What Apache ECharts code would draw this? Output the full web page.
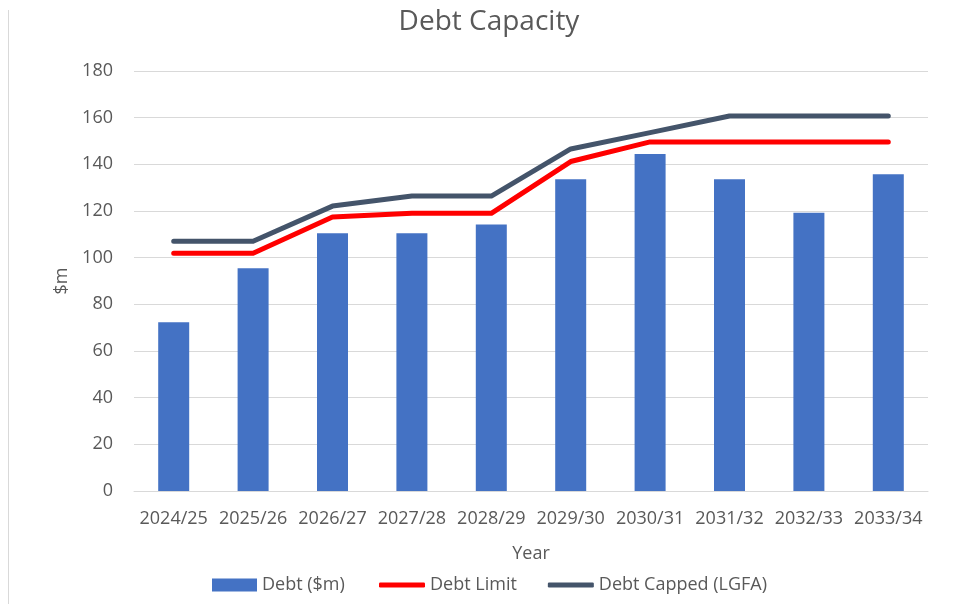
<!DOCTYPE html>
<html>
<head>
<meta charset="utf-8">
<script src="https://cdn.jsdelivr.net/npm/echarts@6/dist/echarts.min.js"></script>
<style>
html,body{margin:0;padding:0;background:#fff;}
#c{width:953px;height:604px;}
</style>
</head>
<body>
<div id="c"></div>
<script>
const categories = ['2024/25','2025/26','2026/27','2027/28','2028/29','2029/30','2030/31','2031/32','2032/33','2033/34'];
const debt = [72.3, 95.5, 110.5, 110.5, 114.2, 133.6, 144.4, 133.6, 119.3, 135.7];
const debtLimit = [101.9, 101.9, 117.4, 119.0, 119.0, 141.2, 149.6, 149.6, 149.6, 149.6];
const debtCapped = [107.0, 107.0, 122.1, 126.4, 126.4, 146.6, 153.6, 160.7, 160.7, 160.7];
const yTicks = [0, 20, 40, 60, 80, 100, 120, 140, 160, 180];

const FONT = '"Open Sans", sans-serif';
const TXT = '#595959';
const chart = echarts.init(document.getElementById('c'), null, {renderer:'canvas'});
const legendText = {fontFamily: FONT, fontSize: 18, color: TXT};
chart.setOption({
  animation: false,
  backgroundColor: '#ffffff',
  title: {
    text: 'Debt Capacity',
    left: 484, top: 3, textAlign: 'center',
    textStyle: {fontFamily: FONT, fontSize: 28, fontWeight: 'normal', color: TXT}
  },
  grid: {left: 134, right: 25, top: 71, bottom: 113, containLabel: false},
  legend: [
    {
      left: 207, top: 571,
      itemWidth: 45, itemHeight: 13, itemGap: 32,
      textStyle: legendText,
      data: [{name: 'Debt ($m)', icon: 'rect'}]
    },
    {
      left: 374, top: 571,
      itemWidth: 46, itemHeight: 5, itemGap: 31,
      textStyle: legendText,
      data: [
        {name: 'Debt Limit', icon: 'roundRect'},
        {name: 'Debt Capped (LGFA)', icon: 'roundRect'}
      ]
    }
  ],
  xAxis: {
    type: 'category',
    data: categories,
    name: 'Year',
    nameLocation: 'middle',
    nameGap: 54,
    nameTextStyle: {fontFamily: FONT, fontSize: 18, color: TXT},
    axisLine: {show: true, lineStyle: {color: '#D9D9D9', width: 1}},
    axisTick: {show: false},
    axisLabel: {fontFamily: FONT, fontSize: 18, color: TXT, margin: 19, interval: 0}
  },
  yAxis: {
    type: 'value',
    min: yTicks[0], max: yTicks[yTicks.length-1], interval: 20,
    name: '$m',
    nameLocation: 'middle',
    nameGap: 62,
    nameRotate: 90,
    nameTextStyle: {fontFamily: FONT, fontSize: 18, color: TXT},
    axisLine: {show: false},
    axisTick: {show: false},
    axisLabel: {fontFamily: FONT, fontSize: 18, color: TXT, margin: 21},
    splitLine: {lineStyle: {color: '#D9D9D9', width: 1}}
  },
  graphic: [{
    type: 'line', shape: {x1: 8.5, y1: 10, x2: 8.5, y2: 604},
    style: {stroke: '#D9D9D9', lineWidth: 1}, silent: true
  }],
  series: [
    {
      name: 'Debt ($m)', type: 'bar', data: debt, barWidth: 31,
      itemStyle: {color: '#4472C4'}
    },
    {
      name: 'Debt Limit', type: 'line', data: debtLimit,
      symbol: 'none', lineStyle: {color: '#FF0000', width: 5, cap: 'round', join: 'round'},
      itemStyle: {color: '#FF0000'}
    },
    {
      name: 'Debt Capped (LGFA)', type: 'line', data: debtCapped,
      symbol: 'none', lineStyle: {color: '#44546A', width: 5, cap: 'round', join: 'round'},
      itemStyle: {color: '#44546A'}
    }
  ]
});
</script>
</body>
</html>
